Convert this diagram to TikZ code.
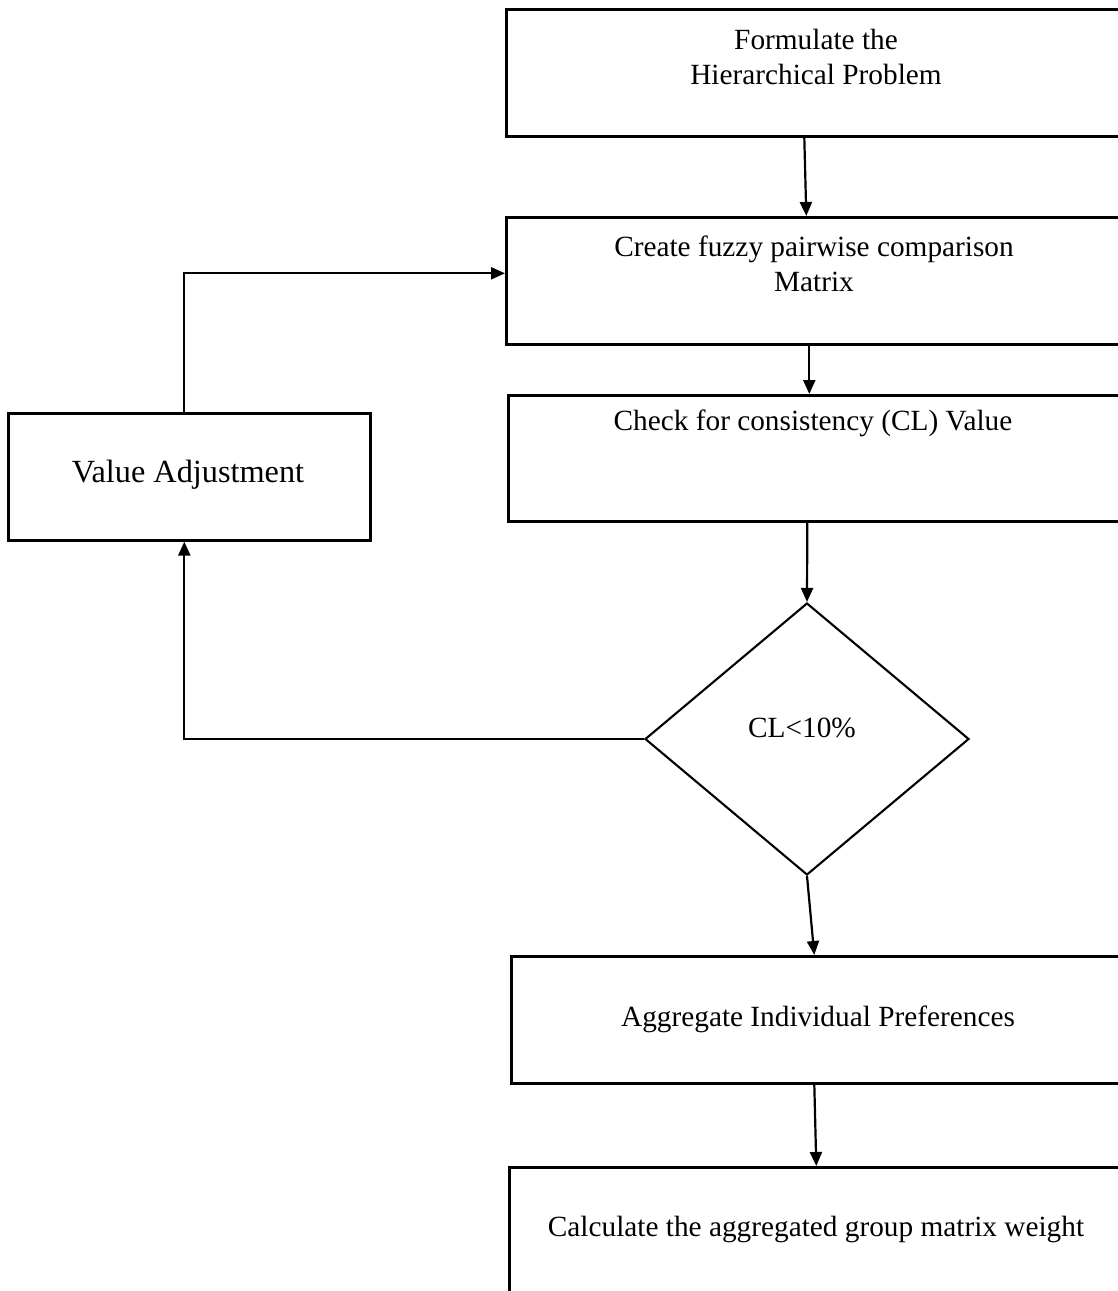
\documentclass[tikz,border=0pt]{standalone}
\usepackage{fontspec}
\setmainfont{Liberation Serif}
\usetikzlibrary{shapes.geometric,arrows.meta}
\begin{document}
\begin{tikzpicture}[x=1pt,y=-1pt,
  stepbox/.style={draw,line width=2.6pt,inner sep=0pt,anchor=north west},
  decision/.style={draw,diamond,line width=2.1pt,inner sep=0pt},
  lbl/.style={align=center,inner sep=0pt,font=\fontsize{29.3}{34.5}\selectfont},
  arr/.style={line width=2.2pt,-{Triangle[length=14pt,width=12pt]}}]
\useasboundingbox (0,0) rectangle (1117,1291);
% process boxes (right edges run past the page)
\node[stepbox,minimum width=620pt,minimum height=127pt] (b1) at (505,8) {};
\node[stepbox,minimum width=620pt,minimum height=127pt] (b2) at (505,216) {};
\node[stepbox,minimum width=618pt,minimum height=126pt] (b3) at (507,394) {};
\node[stepbox,minimum width=362pt,minimum height=127pt] (va) at (7,412) {};
\node[decision,minimum width=324pt,minimum height=272pt] (dia) at (807,739) {};
\node[stepbox,minimum width=615pt,minimum height=127pt] (b4) at (510,955) {};
\node[stepbox,minimum width=617pt,minimum height=140pt] (b5) at (508,1166) {};
% texts
\node[lbl] (t1) at (816,57) {Formulate the\\Hierarchical Problem};
\node[lbl] (t2) at (814,264) {Create fuzzy pairwise comparison\\Matrix};
\node[lbl] (t3) at (813,423) {Check for consistency (CL) Value};
\node[lbl] (t4) at (802,728) {CL<10\%};
\node[lbl,font=\fontsize{32.3}{38}\selectfont] (t5) at (188,475) {Value Adjustment};
\node[lbl] (t6) at (818,1019) {Aggregate Individual Preferences};
\node[lbl] (t7) at (816,1229) {Calculate the aggregated group matrix weight};
% connectors
\draw[arr] ([xshift=-12pt]b1.south) -- ([xshift=-10pt]b2.north);
\draw[arr] ([xshift=-7pt]b2.south) -- ([xshift=-8pt]b3.north);
\draw[arr] ([xshift=-10pt]b3.south) -- (dia.north);
\draw[arr] (dia.south) -- ([xshift=-4.5pt]b4.north);
\draw[arr] ([xshift=-4.5pt]b4.south) -- ([xshift=-1.5pt]b5.north);
\draw[arr] (dia.west) -| ([xshift=-5pt]va.south);
\draw[arr] ([xshift=-5pt]va.north) |- ([yshift=7.5pt]b2.west);
\end{tikzpicture}
\end{document}
